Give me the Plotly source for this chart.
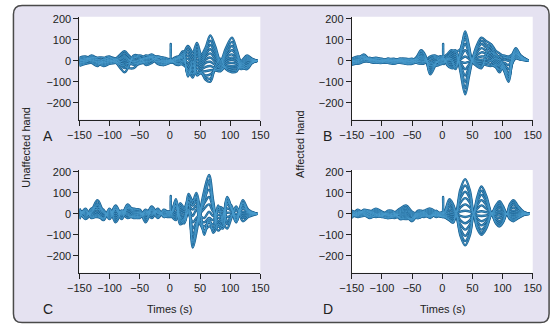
import plotly.graph_objects as go

# ---------------- data ----------------
x_ticks = [-150, -100, -50, 0, 50, 100, 150]
y_ticks = [-200, -100, 0, 100, 200]

tA = [-150, -140, -130, -120, -110, -100, -90, -82, -75, -68, -60, -50, -40, -30, -20, -10, -4, 0, 1.5, 3,
      8, 15, 22, 30, 38, 45, 52, 59, 67, 75, 84, 93, 103, 111, 118, 128, 136, 145]
panel_A = [
    [-5, 5, 25, 10, -5, 5, 10, 30, 45, 25, 5, 5, 15, 30, 10, -5, -5, 0, 0, 0, 10, 15, 30, 70, 40, 85, 30, 60, 120, 70, 0, 60, 110, 50, 0, 25, 10, 0],
    [-10, 0, 20, 5, -10, 0, 5, 25, 35, 20, 0, 0, 10, 25, 5, -10, -5, -2, -2, -2, 5, 10, 20, 55, 25, 70, 20, 50, 95, 55, -5, 45, 90, 40, -5, 20, 8, 0],
    [-15, -5, 15, 0, -15, -5, 0, 15, 25, 10, -5, -5, 5, 20, 0, -10, -8, -5, -5, -5, 0, 5, 15, 40, 10, 55, 10, 40, 75, 40, -10, 35, 70, 30, -10, 15, 5, 0],
    [5, 10, 10, -5, -20, -10, -5, 5, 15, 5, -10, -10, 0, 15, -5, -15, -10, -5, -5, -5, -5, 0, 5, 25, -10, 40, 0, 30, 55, 25, -15, 25, 50, 20, -15, 10, 3, 0],
    [-20, -10, 5, -10, -25, -15, -10, -5, 0, -5, -20, -15, -5, 10, -10, -20, -12, -8, 80, -8, -8, -5, -5, 10, -30, 25, -10, 20, 35, 10, -20, 15, 30, 10, -20, 5, 0, 0],
    [10, 15, 0, -15, -5, 10, 5, -10, -20, -10, 15, 10, -10, 5, 15, 5, 0, 0, 0, 0, -10, -15, 0, -10, -50, 5, -20, 5, 15, -5, -30, 5, 15, 5, -25, 0, -2, 0],
    [0, 10, -5, -20, 0, 15, 0, -20, -35, -20, 20, 15, -15, 0, 20, 10, 5, 2, 2, 2, -15, -20, -10, -25, -65, -10, -30, -10, -5, -20, -35, -5, 5, -5, -30, -10, -5, 0],
    [-25, -15, -10, -25, 10, 20, -5, -35, -55, -25, 25, 20, -20, -10, 15, 15, 10, 5, 5, 5, -10, -15, -20, -40, -80, -25, -40, -30, -25, -35, -45, -15, -10, -15, -35, -20, -8, 0],
    [15, 20, 5, -5, 5, 15, 10, -5, 10, 0, 10, 25, 15, 20, 20, 0, 0, 5, 5, 5, 15, 20, 10, -50, -60, -40, -50, -50, -45, -45, -50, -25, -25, -25, -40, -30, -10, 0],
    [0, 5, 15, 15, 15, 5, -10, -20, -25, -35, -35, -5, 25, 15, -15, -20, -15, -10, -10, -10, 5, 10, 25, -60, -40, -55, -55, -70, -65, -45, -40, -30, -35, -35, -30, -40, -12, 0],
    [5, 0, 10, 5, 5, 0, 5, 10, 20, 5, -5, 5, 10, 15, 5, 0, 0, 0, 0, 0, 10, 15, 35, -70, -20, -65, -60, -80, -85, -40, -20, -35, -45, -45, -20, -35, -10, 0],
    [-10, -5, 0, -10, -10, -5, -5, -15, -10, -15, -15, -10, -5, 0, -5, -5, -5, -5, -5, -5, 0, 20, 45, -75, 0, -70, -55, -90, -100, -30, 10, -40, -55, -50, -10, -25, -5, 0],
]

tB = [-150, -140, -130, -120, -110, -100, -90, -80, -70, -60, -50, -42, -35, -28, -20, -12, -5, 0, 1.5, 3,
      8, 15, 22, 30, 38, 44, 50, 57, 65, 72, 80, 88, 95, 102, 110, 116, 122, 130, 143]
panel_B = [
    [0, 10, 30, 5, 10, 0, 10, 0, 10, -5, 0, 15, 45, 20, -55, -20, 5, 10, 10, 10, 20, 40, 50, -50, -160, -80, 5, 70, 110, 95, 80, 35, 10, -20, -60, 20, 55, 25, 0],
    [-5, 5, 25, 0, 5, -5, 5, -5, 5, -10, -5, 10, 35, 15, -45, -15, 0, 5, 5, 5, 15, 30, 40, -40, -130, -65, 4, 60, 95, 80, 65, 25, 0, -30, -75, 10, 45, 20, 0],
    [-10, 0, 20, 5, 0, 0, 0, -10, 0, -15, -10, 5, 25, 10, -35, -10, -5, 0, 0, 0, 10, 20, 30, -30, -100, -50, 3, 50, 80, 65, 50, 15, -10, -40, -90, 0, 35, 15, 0],
    [-15, -5, 10, 0, -5, 5, -5, -5, -5, -10, -10, 0, 15, 5, -25, -5, -10, -5, -5, -5, 5, 10, 20, -20, -70, -35, 2, 38, 60, 50, 35, 5, -20, -45, -100, -10, 25, 10, 0],
    [-20, -10, 5, -5, -10, 0, -10, -10, -10, -15, -15, -5, 5, 0, -15, 0, -15, -10, -10, -10, 0, 0, 10, -10, -40, -20, 1, 25, 40, 35, 20, -5, -30, -40, -85, -15, 15, 5, 0],
    [5, 15, 20, 10, 15, 5, 5, 0, 5, 0, -5, -5, 0, -5, -10, 10, 0, 0, 80, 0, -5, -10, 0, -5, -10, -5, 0, 12, 20, 20, 10, -15, -45, -30, -65, -10, 10, 5, 0],
    [10, 20, 15, 5, 10, 10, 0, 5, 0, 5, 0, -10, -10, -5, 5, 15, 5, 5, 5, 5, -10, -20, -10, 5, 20, 10, 0, 3, 5, 5, 0, -25, -55, -20, -40, 0, 20, 10, 0],
    [-5, 0, 10, 10, 0, -5, 5, 10, -5, 0, 5, -10, -15, -10, 10, 20, 10, 10, 10, 10, -15, -30, -20, 15, 50, 25, -1, -3, -5, -10, -15, -30, -40, -10, -20, 10, 30, 15, 0],
    [0, -10, 0, 15, -5, -10, 10, 5, 5, 5, 10, 0, -5, 0, 20, 25, 15, 15, 15, 15, -20, -35, -30, 25, 80, 40, -2, -10, -15, -20, -25, -20, -20, 5, 0, 20, 40, 20, 0],
    [5, -5, 5, 5, 5, -5, -5, 0, 10, 10, 5, 5, 10, 5, -5, -20, -15, -10, -10, -10, 10, 0, -40, 35, 105, 55, -3, -15, -25, -10, 0, 10, 5, 15, 15, 25, 50, 20, 0],
    [-10, -15, -5, -5, -10, -10, -10, -15, -5, -5, 0, 10, 20, 10, -20, -25, -20, -15, -15, -15, 5, 10, -30, 45, 125, 65, -4, -20, -30, 10, 40, 30, 20, 25, 20, 30, 60, 25, 0],
    [0, 5, 15, 0, 0, 0, 0, 0, 0, 0, 0, 20, 50, 25, -65, -25, 20, 20, 20, 20, 30, 50, 45, 55, 140, 75, -5, -25, -35, 30, 80, 50, 35, 20, 10, 15, 35, 15, 0],
]

tC = [-150, -140, -130, -120, -110, -100, -90, -80, -70, -60, -50, -40, -30, -20, -10, -4, 0, 1.5, 3,
      10, 17, 24, 31, 38, 44, 50, 57, 65, 72, 80, 88, 95, 102, 110, 121, 130, 145]
panel_C = [
    [25, -10, 15, 65, 10, -10, 40, -5, 45, 10, 5, -10, 35, 0, 10, 5, 5, 5, 5, 70, -20, -40, 20, -160, -90, 10, 110, 185, 60, -60, -20, 80, 30, -30, 65, 20, 0],
    [20, -5, 10, 50, 5, -5, 30, 0, 35, 5, 5, -5, 30, 0, 5, 5, 5, 5, 5, 55, -15, -30, 15, -130, -70, 5, 90, 150, 45, -45, -15, 65, 25, -20, 50, 15, 0],
    [15, 0, 5, 40, 0, 0, 20, 5, 25, 0, 0, 0, 25, 5, 0, 0, 0, 0, 0, 40, -10, -20, 10, -100, -55, 5, 70, 115, 35, -35, -10, 45, 20, -15, 40, 10, 0],
    [10, 5, 0, 25, -10, 5, 10, 10, 15, -5, 0, 5, 15, 5, -5, 0, 0, 0, 0, 25, 0, -10, 5, -70, -40, 0, 50, 80, 25, -20, -5, 25, 15, -10, 25, 10, 0],
    [5, 10, -5, 10, -20, 10, 0, 15, 5, -10, -5, 10, 5, 10, -10, -5, -5, -5, -5, 10, 10, 0, 0, -40, -20, 0, 25, 45, 10, -5, 0, 5, 5, 0, 10, 5, 0],
    [-5, 15, -10, 0, -25, 15, -10, 15, 0, -15, -10, 15, 0, 15, -10, -5, -5, 85, -5, 0, 20, 10, 20, -10, 20, -10, -20, 10, -10, 10, 10, -15, -5, 15, 0, 0, 0],
    [-15, 20, -15, -5, -30, 20, -20, 10, -5, -20, -15, 20, -5, 20, -15, -10, -10, -10, -10, -10, 30, 20, 40, 20, 40, -30, -40, -20, -30, 20, 20, -35, -10, 25, -10, -5, 0],
    [-20, 25, -20, -10, -25, 25, -30, 5, -10, -15, -20, 10, -10, 25, -15, -10, -10, -10, -10, -20, 40, 25, 55, 40, 60, -50, -60, -40, -50, 30, 25, -50, -15, 30, -20, -10, 0],
    [-25, 15, -15, -15, -20, 20, -40, 0, -20, -10, -15, 0, -20, 15, -10, -15, -15, -15, -15, -30, 50, 30, 70, 60, 80, -40, -80, -60, -70, 40, -40, -70, -20, 35, -35, -15, 0],
    [10, -20, 20, 20, 15, -20, 20, -20, 30, 20, 20, -20, 20, -15, 20, 10, 10, 10, 10, 40, -40, -20, 95, 60, 100, 20, -100, -20, -90, -60, -70, 50, 40, -40, 50, 10, 0],
    [0, -15, 25, 30, 20, -25, 25, -25, 25, 25, 15, -40, 15, -20, 15, 10, 10, 10, 10, 35, -50, -30, 80, 40, 85, 10, -85, -30, -75, -50, -60, 60, 30, -30, 30, 5, 0],
    [20, -25, 5, 45, 10, -15, 35, -10, 40, 15, 10, -30, 25, -10, 15, 10, 10, 10, 10, 60, -30, -45, 60, -140, -60, 20, 60, 160, 30, -80, -40, 75, 25, -40, 55, 15, 0],
]

tD = [-150, -140, -130, -120, -110, -100, -90, -80, -70, -60, -50, -40, -30, -20, -10, -4, 0, 1.5, 3,
      6, 12, 18, 23, 30, 38, 46, 52, 58, 65, 73, 82, 89, 95, 101, 107, 112, 118, 125, 135, 145]
panel_D = [
    [15, 5, 10, 10, 25, 10, 0, 5, 25, 40, 10, 0, 15, 25, 10, 5, 8, 8, 8, 25, 70, 45, 10, 115, 165, 110, 5, 80, 130, 85, 5, 40, 60, 35, 0, 45, 65, 40, 10, 0],
    [10, 0, 5, 5, 20, 5, -5, 0, 20, 32, 5, -5, 10, 20, 5, 3, 5, 5, 5, 20, 58, 38, 8, 95, 135, 92, 4, 68, 110, 72, 4, 34, 50, 30, 0, 38, 55, 35, 8, 0],
    [5, -5, 0, 0, 15, 0, -10, -5, 15, 25, 0, -10, 5, 15, 0, 0, 2, 2, 2, 15, 45, 30, 6, 74, 105, 72, 3, 55, 90, 58, 3, 26, 40, 24, 0, 30, 45, 28, 6, 0],
    [0, -10, -5, -5, 10, -5, -15, -10, 10, 18, -5, -15, 0, 10, -5, -3, 0, 0, 0, 10, 33, 20, 4, 52, 75, 52, 2, 40, 65, 42, 2, 18, 28, 16, 0, 20, 30, 18, 4, 0],
    [-5, -15, -10, -10, 5, -10, -20, -15, 5, 12, -10, -20, -5, 5, -10, -5, -2, -2, -2, 5, 20, 12, 2, 30, 45, 30, 1, 24, 40, 25, 1, 10, 15, 8, 0, 10, 15, 10, 2, 0],
    [-10, 15, -5, -15, 0, -15, -20, -10, 0, 5, -15, -20, -10, 0, -15, -8, -5, 80, -5, 0, 8, 4, 0, 10, 15, 10, 0, 8, 12, 8, 0, 3, 5, 3, 0, 3, 5, 3, 1, 0],
    [-15, 20, 0, -20, -5, 5, -10, -5, -5, 0, -25, -10, -15, -5, -10, -10, -8, -8, -8, -2, 0, -5, 0, -10, -15, -10, 0, -8, -10, -8, 0, -5, -8, -5, 0, -3, -5, -3, 0, 0],
    [-20, 10, 5, -15, -10, 0, -5, -20, -10, -5, -30, -5, -10, -10, -5, -10, -10, -10, -10, -8, -10, -15, -2, -30, -45, -30, -1, -22, -35, -25, -1, -15, -20, -12, 0, -8, -12, -8, -2, 0],
    [-15, 5, 10, -5, -15, -5, 0, -10, -15, -10, -35, 0, -5, -15, 0, -12, -12, -12, -12, -12, -18, -25, -4, -50, -75, -50, -2, -38, -55, -38, -2, -25, -35, -22, 0, -12, -18, -12, -3, 0],
    [-10, 0, 15, 5, -10, -10, 5, 0, -20, -15, -30, 5, 0, -20, 5, -12, -14, -14, -14, -15, -25, -35, -6, -72, -105, -70, -3, -50, -75, -52, -3, -35, -45, -30, 0, -18, -25, -18, -4, 0],
    [-5, -5, 20, 10, -5, -15, 10, 5, -25, -20, -25, 10, 5, -15, 10, -10, -15, -15, -15, -18, -30, -40, -8, -90, -130, -88, -4, -62, -90, -62, -4, -42, -55, -36, 0, -22, -30, -20, -5, 0],
    [0, -10, 15, 15, 0, -10, 15, 10, -20, -25, -20, 15, 10, -10, 15, -5, -15, -15, -15, -20, -30, -42, -10, -102, -150, -100, -5, -70, -100, -70, -5, -45, -60, -40, 0, -25, -35, -22, -6, 0],
]

panel_letters = ["A", "B", "C", "D"]
row_labels = ["Unaffected hand", "Affected hand"]
x_title = "Times (s)"

# ---------------- figure ----------------
W, H = 560, 324
FONT = "Liberation Sans, Arial, sans-serif"
OUTER = "#1d6393"
INNER = "#4a9ccd"

fig = go.Figure()

panels = [(tA, panel_A, "x", "y"), (tB, panel_B, "x2", "y2"),
          (tC, panel_C, "x3", "y3"), (tD, panel_D, "x4", "y4")]
for t, lines, xa, ya in panels:
    for vals in lines:
        fig.add_trace(go.Scatter(x=t, y=vals, mode="lines", xaxis=xa, yaxis=ya,
                                 line=dict(color=OUTER, width=2.4, shape="spline", smoothing=1.0),
                                 hoverinfo="skip", showlegend=False))
    for vals in lines:
        fig.add_trace(go.Scatter(x=t, y=vals, mode="lines", xaxis=xa, yaxis=ya,
                                 line=dict(color=INNER, width=0.8, shape="spline", smoothing=1.0),
                                 hoverinfo="skip", showlegend=False))

def px_x(p):
    return p / W

def px_y(p):
    return 1 - p / H

xdomL = [px_x(70), px_x(258)]
xdomR = [px_x(353), px_x(541)]
ydomT = [px_y(117), px_y(13)]
ydomB = [px_y(272), px_y(168)]

yr = [-280, 209]
TICKFONT = dict(family=FONT, size=11, color="#222")
common_x = dict(range=[-150, 150], tickvals=x_ticks, showgrid=False, zeroline=False,
                showline=True, linecolor="#222", linewidth=1, ticks="outside", ticklen=5,
                tickcolor="#222", tickangle=0, tickfont=TICKFONT, fixedrange=True)
common_y = dict(range=yr, tickvals=y_ticks, showgrid=False, zeroline=False,
                showline=True, linecolor="#222", linewidth=1, ticks="outside", ticklen=5,
                tickcolor="#222", tickangle=0, tickfont=TICKFONT, fixedrange=True)

layout_axes = {}
for i, (xd, yd) in enumerate([(xdomL, ydomT), (xdomR, ydomT), (xdomL, ydomB), (xdomR, ydomB)], start=1):
    sx = "" if i == 1 else str(i)
    layout_axes["xaxis" + sx] = dict(common_x, domain=xd, anchor="y" + sx)
    layout_axes["yaxis" + sx] = dict(common_y, domain=yd, anchor="x" + sx)

fig.update_layout(**layout_axes)

# background frame with rounded corners
rx, ry = 9 / W, 9 / H
x0, x1 = 1.5 / W, 1 - 2 / W
y0, y1 = 1.5 / H, 1 - 1.5 / H
path = (f"M {x0+rx},{y1} L {x1-rx},{y1} Q {x1},{y1} {x1},{y1-ry} "
        f"L {x1},{y0+ry} Q {x1},{y0} {x1-rx},{y0} L {x0+rx},{y0} Q {x0},{y0} {x0},{y0+ry} "
        f"L {x0},{y1-ry} Q {x0},{y1} {x0+rx},{y1} Z")

shapes = [dict(type="path", xref="paper", yref="paper", path=path,
               line=dict(color="#4a4a4a", width=1.5), fillcolor="#e5e2f1", layer="below")]
for xd, yd in [(xdomL, ydomT), (xdomR, ydomT), (xdomL, ydomB), (xdomR, ydomB)]:
    shapes.append(dict(type="rect", xref="paper", yref="paper", x0=xd[0], x1=xd[1], y0=yd[0], y1=yd[1],
                       line=dict(width=0), fillcolor="white", layer="below"))

annotations = []
for letter, (ax_px, ay_px) in zip(panel_letters, [(37, 134), (328, 134), (37, 309), (328, 309)]):
    annotations.append(dict(text=letter, x=px_x(ax_px), y=px_y(ay_px), xref="paper", yref="paper",
                            showarrow=False, xanchor="center", yanchor="middle",
                            font=dict(family=FONT, size=14, color="#222")))
for lab, (ax_px, ay_px) in zip(row_labels, [(15, 145), (299, 142)]):
    annotations.append(dict(text=lab, x=px_x(ax_px), y=px_y(ay_px), xref="paper", yref="paper",
                            showarrow=False, textangle=-90, xanchor="center", yanchor="middle",
                            font=dict(family=FONT, size=11, color="#222")))
for cx in [164, 447]:
    annotations.append(dict(text=x_title, x=px_x(cx), y=px_y(309), xref="paper", yref="paper",
                            showarrow=False, xanchor="center", yanchor="middle",
                            font=dict(family=FONT, size=11, color="#222")))

fig.update_layout(width=W, height=H, margin=dict(l=0, r=0, t=0, b=0),
                  paper_bgcolor="white", plot_bgcolor="rgba(0,0,0,0)",
                  shapes=shapes, annotations=annotations, showlegend=False)

fig.write_html("out.html", config={"displayModeBar": False})
